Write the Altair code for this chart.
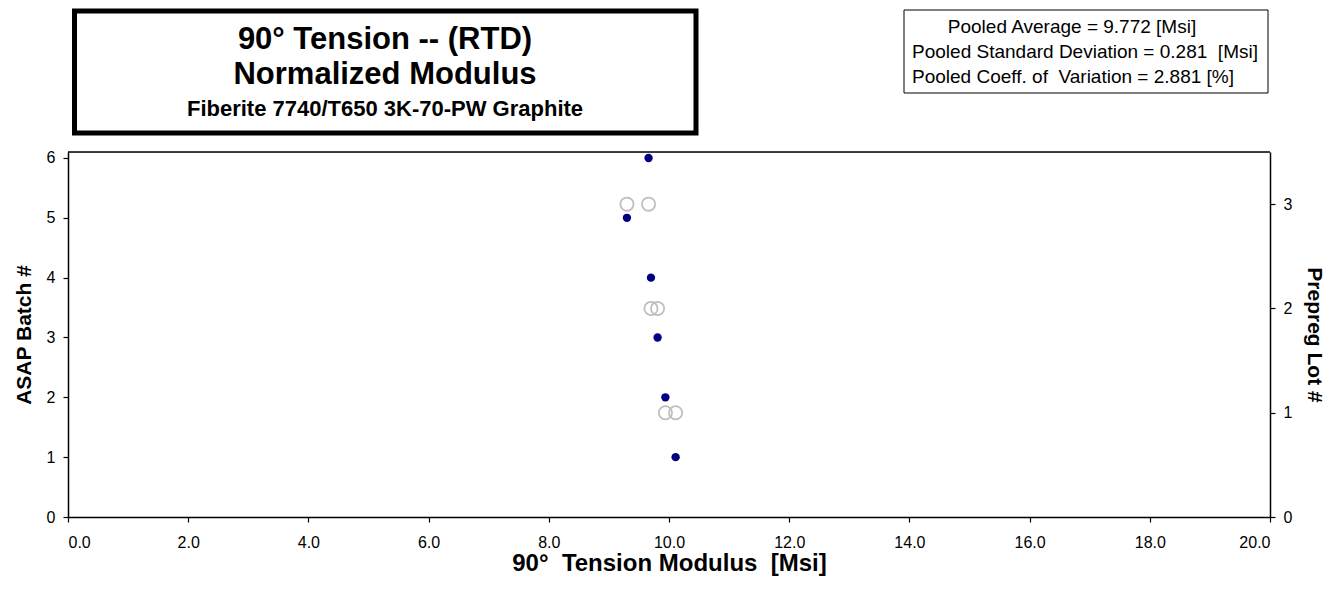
import altair as alt
import pandas as pd

batch = [1, 2, 3, 4, 5, 6]
modulus = [10.11, 9.94, 9.81, 9.70, 9.30, 9.66]
lot = [1, 1, 2, 2, 3, 3]
x_ticks = [0, 2, 4, 6, 8, 10, 12, 14, 16, 18, 20]
batch_ticks = [0, 1, 2, 3, 4, 5, 6]
lot_ticks = [0, 1, 2, 3]
NB = "\u00a0"
title_lines = ["90° Tension -- (RTD)", "Normalized Modulus", "Fiberite 7740/T650 3K-70-PW Graphite"]
stats_lines = ["Pooled Average = 9.772 [Msi]",
               "Pooled Standard Deviation = 0.281" + NB + " [Msi]",
               "Pooled Coeff. of" + NB + " Variation = 2.881 [%]"]
x_title = "90°" + NB + " Tension Modulus" + NB + " [Msi]"

df = pd.DataFrame({"batch": batch, "modulus": modulus, "lot": lot})
one = pd.DataFrame({"a": [0]})
FONT = "Liberation Sans"

common_axis = dict(grid=False, domainColor="black", tickColor="black", labelColor="black",
                   titleColor="black", tickSize=5, domainWidth=1.5, tickWidth=1.2,
                   labelFontSize=16, titleFontWeight="bold", labelFont=FONT, titleFont=FONT)

xenc = alt.X("modulus:Q", scale=alt.Scale(domain=[0, 20], nice=False),
             axis=alt.Axis(values=x_ticks, format=".1f", title=x_title,
                           titleFontSize=24, titlePadding=1, labelPadding=12, **common_axis))

batch_layer = alt.Chart(df).mark_circle(size=70, color="#000080", opacity=1).encode(
    x=xenc,
    y=alt.Y("batch:Q", scale=alt.Scale(domain=[0, 6.1], nice=False, zero=True),
            axis=alt.Axis(values=batch_ticks, title="ASAP Batch #", orient="left",
                          titleFontSize=21, titlePadding=12, labelPadding=8, **common_axis)),
)

lot_layer = alt.Chart(df).mark_point(size=175, shape="circle", filled=False, color="#bfbfbf",
                                     strokeWidth=1.8, opacity=1).encode(
    x=alt.X("modulus:Q"),
    y=alt.Y("lot:Q", scale=alt.Scale(domain=[0, 3.5], nice=False),
            axis=alt.Axis(values=lot_ticks, title="Prepreg Lot #", orient="right",
                          titleFontSize=21, titlePadding=12, labelPadding=8, **common_axis)),
)

top_rule = alt.Chart(one).mark_rule(color="black", strokeWidth=1.5).encode(
    x=alt.value(0), x2=alt.value(1202), y=alt.value(0))

title_box = alt.Chart(one).mark_rect(fill="white", stroke="black", strokeWidth=5).encode(
    x=alt.value(6.5), x2=alt.value(628), y=alt.value(-141), y2=alt.value(-19))
title_layers = []
for line, fs, yb in zip(title_lines, [31, 31, 22], [-103, -68, -36]):
    title_layers.append(alt.Chart(one).mark_text(text=line, font=FONT, fontSize=fs, fontWeight="bold",
                                                 align="center", baseline="alphabetic").encode(
        x=alt.value(317), y=alt.value(yb)))

stats_box = alt.Chart(one).mark_rect(fill="white", stroke="black", strokeWidth=1).encode(
    x=alt.value(836), x2=alt.value(1200), y=alt.value(-142), y2=alt.value(-59))
s_layers = []
for line, xc, yb in zip(stats_lines, [1004, 1017, 1005], [-119, -94, -69]):
    s_layers.append(alt.Chart(one).mark_text(text=line, font=FONT, fontSize=19, align="center",
                                             baseline="alphabetic").encode(
        x=alt.value(xc), y=alt.value(yb)))

points = alt.layer(batch_layer, lot_layer).resolve_scale(y="independent")

chart = alt.layer(points, top_rule, title_box, *title_layers, stats_box, *s_layers).properties(
    width=1202, height=365,
    autosize=alt.AutoSizeParams(type="none"),
    padding={"left": 68, "top": 152, "right": 73, "bottom": 72},
).configure_view(stroke=None).configure(background="white")

chart.save("out.html", embed_options={"renderer": "svg", "actions": False})
